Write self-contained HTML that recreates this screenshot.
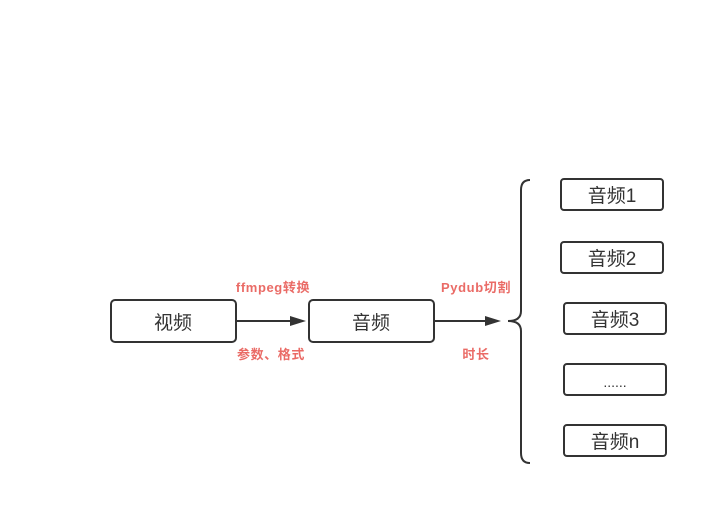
<!DOCTYPE html>
<html><head><meta charset="utf-8"><style>
body{margin:0;background:#fff;}
svg text{font-family:"Liberation Sans","Noto Sans CJK SC",sans-serif;}
</style></head><body>
<svg width="728" height="525" viewBox="0 0 728 525" xmlns="http://www.w3.org/2000/svg">
<g fill="#fff" stroke="#333" stroke-width="2">
<rect x="111" y="300" width="125" height="42" rx="4"/>
<rect x="309" y="300" width="125" height="42" rx="4"/>
<rect x="561" y="179" width="102" height="31" rx="3"/>
<rect x="561" y="242" width="102" height="31" rx="3"/>
<rect x="564" y="303" width="102" height="31" rx="3"/>
<rect x="564" y="364" width="102" height="31" rx="3"/>
<rect x="564" y="425" width="102" height="31" rx="3"/>
</g>
<g stroke="#333" stroke-width="2" fill="none">
<line x1="236" y1="321" x2="292" y2="321"/>
<line x1="434" y1="321" x2="488" y2="321"/>
<path d="M530 180 Q521 180 521 190 L521 311 Q521 321 508 321 Q521 321 521 331 L521 453 Q521 463 530 463"/>
</g>
<polygon points="306,321 290,316 290,326" fill="#333"/>
<polygon points="501,321 485,316 485,326" fill="#333"/>
<g font-size="19" fill="#333" text-anchor="middle">
<text x="173" y="329">视频</text>
<text x="371" y="329">音频</text>
<text x="612" y="202">音频1</text>
<text x="612" y="265">音频2</text>
<text x="615" y="326">音频3</text>
<text x="615" y="387" font-size="14">......</text>
<text x="615" y="448">音频n</text>
</g>
<g font-size="13" font-weight="bold" fill="#ea6b66" text-anchor="middle" letter-spacing="0.6">
<text x="273" y="292">ffmpeg转换</text>
<text x="271" y="359">参数、格式</text>
<text x="476" y="292">Pydub切割</text>
<text x="476" y="359">时长</text>
</g>
</svg>
</body></html>
